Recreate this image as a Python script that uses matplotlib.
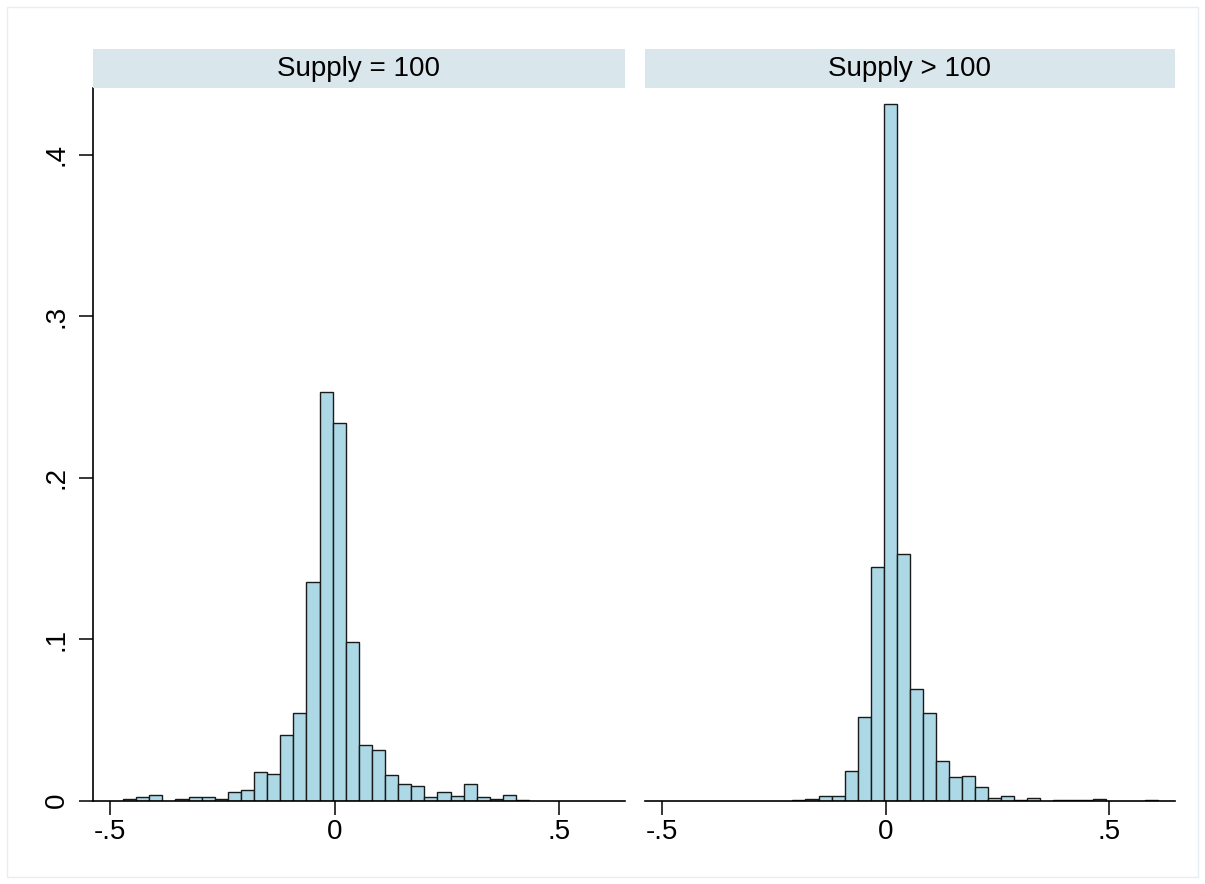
import numpy as np
import matplotlib.pyplot as plt
from matplotlib.patches import Rectangle

plt.rcParams['font.family'] = ['Liberation Sans', 'DejaVu Sans']

# common histogram bins (37 bins of equal width)
bin_start = -0.4710
bin_width = 0.02918
n_bins = 37

panel_titles = ['Supply = 100', 'Supply > 100']

# densities per bin
density_eq100 = [0.0012, 0.0020, 0.0033, 0.0, 0.0012, 0.0020, 0.0020, 0.0012,
                 0.0052, 0.0064, 0.0175, 0.0164, 0.0407, 0.0540, 0.1352, 0.2533,
                 0.2339, 0.0980, 0.0345, 0.0314, 0.0157, 0.0101, 0.0094, 0.0021,
                 0.0056, 0.0031, 0.0101, 0.0021, 0.0012, 0.0033, 0.0006,
                 0.0, 0.0, 0.0, 0.0, 0.0, 0.0]
density_gt100 = [0.0, 0.0, 0.0, 0.0, 0.0, 0.0, 0.0, 0.0, 0.0,
                 0.0004, 0.0012, 0.0029, 0.0032, 0.0186, 0.0520, 0.1445,
                 0.4314, 0.1527, 0.0693, 0.0540, 0.0248, 0.0147, 0.0151, 0.0087,
                 0.0014, 0.0031, 0.0004, 0.0014, 0.0, 0.0004, 0.0004, 0.0004,
                 0.0008, 0.0, 0.0, 0.0, 0.0004]

x_ticks = [-0.5, 0, 0.5]
x_ticklabels = ['-.5', '0', '.5']
y_ticks = [0, 0.1, 0.2, 0.3, 0.4]
y_ticklabels = ['0', '.1', '.2', '.3', '.4']

W, H = 1205, 884
fig = plt.figure(figsize=(W / 100, H / 100), dpi=100)

# faint outer frame
fig.patches.append(Rectangle((7 / W, 7 / H), 1191 / W, 870 / H, transform=fig.transFigure,
                             fill=False, edgecolor='#e6eef1', linewidth=1))

panels = [(93, 532), (645, 530)]
ax_bottom = (H - 800.7) / H
ax_height = 712.7 / H
strip_bottom = (H - 88.3) / H
strip_height = 39 / H

lefts = bin_start + bin_width * np.arange(n_bins)
bar_color = '#add8e6'
fs = 20

for i, ((px, pw), title, dens) in enumerate(zip(panels, panel_titles, [density_eq100, density_gt100])):
    ax = fig.add_axes([px / W, ax_bottom, pw / W, ax_height])
    keep = [k for k in range(n_bins) if dens[k] > 0]
    ax.bar(lefts[keep], np.array(dens)[keep], width=bin_width, align='edge',
           color=bar_color, edgecolor='#1a1a1a', linewidth=1.0)
    ax.set_xlim(-0.538, 0.647)
    ax.set_ylim(0, 0.4413)
    for s in ['top', 'right']:
        ax.spines[s].set_visible(False)
    ax.spines['bottom'].set_linewidth(1.2)
    ax.set_xticks(x_ticks)
    ax.set_xticklabels(x_ticklabels, fontsize=fs)
    ax.tick_params(axis='x', length=10, width=1.1, pad=3)
    if i == 0:
        ax.spines['left'].set_linewidth(1.2)
        ax.set_yticks(y_ticks)
        ax.set_yticklabels(y_ticklabels, fontsize=fs, rotation=90, va='center')
        ax.tick_params(axis='y', length=10, width=1.1, pad=7)
    else:
        ax.spines['left'].set_visible(False)
        ax.set_yticks([])

    strip = fig.add_axes([px / W, strip_bottom, pw / W, strip_height])
    strip.set_facecolor('#d9e6eb')
    strip.set_xticks([])
    strip.set_yticks([])
    for s in strip.spines.values():
        s.set_visible(False)
    strip.text(0.5, 0.5, title, ha='center', va='center', fontsize=fs,
               transform=strip.transAxes)

fig.savefig('out.png', dpi=100, facecolor='white')
